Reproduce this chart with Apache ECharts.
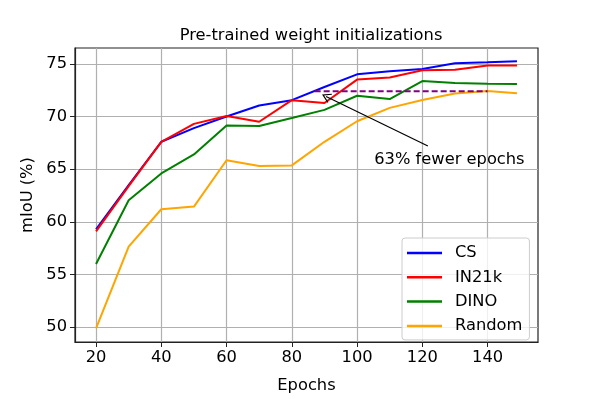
<!DOCTYPE html>
<html>
<head>
<meta charset="utf-8">
<script src="https://cdn.jsdelivr.net/npm/echarts@6/dist/echarts.min.js"></script>
<style>
  html, body { margin: 0; padding: 0; background: #fff; }
  #chart { width: 598px; height: 399px; }
</style>
</head>
<body>
<div id="chart"></div>
<script>
// values
var epochs = [20, 30, 40, 50, 60, 70, 80, 90, 100, 110, 120, 130, 140, 149]
var cs     = [59.3, 63.5, 67.6, 68.9, 70.0, 71.05, 71.55, 72.8, 74.0, 74.3, 74.5, 75.05, 75.15, 75.25]
var in21k  = [59.1, 63.4, 67.6, 69.3, 70.05, 69.5, 71.55, 71.28, 73.5, 73.7, 74.38, 74.44, 74.85, 74.85]
var dino   = [56.0, 62.05, 64.6, 66.4, 69.15, 69.1, 69.85, 70.63, 71.97, 71.65, 73.36, 73.17, 73.1, 73.08]
var random = [49.9, 57.65, 61.2, 61.45, 65.85, 65.3, 65.36, 67.6, 69.55, 70.82, 71.56, 72.18, 72.43, 72.21]

var xTicks = [20, 40, 60, 80, 100, 120, 140]
var yTicks = [50, 55, 60, 65, 70, 75]

var gapX = [87, 140]      // dashed "same mIoU" segment
var gapY = 72.4
var arrowFrom = [121.7, 67.2]
var arrowTo = [90.5, 71.9]
var noteAt = [128.3, 65.9]
var noteText = '63% fewer epochs'

const FONT = 'DejaVu Sans'
const FS = 16.3

const pairs = (xs, ys) => xs.map((x, i) => [x, ys[i]])

const lineSeries = (name, ys, color) => {
    return {
        name: name,
        type: 'line',
        data: pairs(epochs, ys),
        symbol: 'none',
        lineStyle: { color: color, width: 2 },
        itemStyle: { color: color },
        z: 3
    }
}

var chart = echarts.init(document.getElementById('chart'), null, {renderer: 'canvas'})

var opt = {
    animation: false,
    backgroundColor: '#fff',
    textStyle: { fontFamily: FONT },
    title: {
        text: 'Pre-trained weight initializations',
        left: 306, top: 23, textAlign: 'center',
        textStyle: { fontFamily: FONT, fontSize: FS, fontWeight: 'normal', color: '#000' }
    },
    grid: {
        left: 75, right: 60, top: 48, bottom: 50,
        show: true, borderColor: '#222', borderWidth: 1.2, backgroundColor: 'transparent'
    },
    legend: {
        data: ['CS', 'IN21k', 'DINO', 'Random'],
        orient: 'vertical',
        left: 402, top: 238,
        padding: [6, 7, 5, 5],
        icon: 'rect',
        itemWidth: 35, itemHeight: 2.5, itemGap: 6.3,
        backgroundColor: 'rgba(255,255,255,0.8)',
        borderColor: '#ccc', borderWidth: 1, borderRadius: 3,
        textStyle: { fontFamily: FONT, fontSize: FS, color: '#000', lineHeight: 18, padding: [0, 0, 0, 8] }
    },
    xAxis: {
        type: 'value',
        min: 13.55, max: 155.45,
        name: 'Epochs', nameLocation: 'middle', nameGap: 36,
        nameTextStyle: { fontFamily: FONT, fontSize: FS, color: '#000' },
        axisLine: { show: true, lineStyle: { color: '#222', width: 1.2 } },
        axisTick: { show: true, length: 5, customValues: xTicks, lineStyle: { color: '#222' } },
        axisLabel: { customValues: xTicks, fontFamily: FONT, fontSize: FS, color: '#000', margin: 8 },
        splitLine: { show: true, lineStyle: { color: '#b0b0b0', width: 1.2 } }
    },
    yAxis: {
        type: 'value',
        min: 48.6, max: 76.5,
        name: 'mIoU (%)', nameLocation: 'middle', nameGap: 33,
        nameTextStyle: { fontFamily: FONT, fontSize: FS, color: '#000' },
        axisLine: { show: true, lineStyle: { color: '#222', width: 1.2 } },
        axisTick: { show: true, length: 5, customValues: yTicks, lineStyle: { color: '#222' } },
        axisLabel: { customValues: yTicks, fontFamily: FONT, fontSize: FS, color: '#000', margin: 8 },
        splitLine: { show: true, lineStyle: { color: '#b0b0b0', width: 1.2 } }
    },
    series: [
        lineSeries('CS', cs, '#0000ff'),
        lineSeries('IN21k', in21k, '#ff0000'),
        lineSeries('DINO', dino, '#008000'),
        lineSeries('Random', random, '#ffa500'),
        {
            name: 'gap',
            type: 'line',
            data: gapX.map(x => [x, gapY]),
            symbol: 'none',
            lineStyle: { color: '#800080', width: 2, type: [6, 3] },
            z: 4,
            markLine: {
                silent: true,
                // open "->" style head
                symbol: ['none', 'path://M0,0 L6,9 L4.8,9.6 L0,2.4 L-4.8,9.6 L-6,9 Z'],
                symbolSize: [10, 9],
                lineStyle: { color: '#000', width: 1.2, type: 'solid' },
                label: { show: false },
                data: [[{ coord: arrowFrom }, { coord: arrowTo }]]
            },
            markPoint: {
                silent: true,
                symbol: 'circle', symbolSize: 0,
                label: {
                    show: true, formatter: noteText, position: 'inside',
                    fontFamily: FONT, fontSize: FS, color: '#000'
                },
                data: [{ coord: noteAt }]
            }
        }
    ]
}
chart.setOption(opt)
</script>
</body>
</html>
